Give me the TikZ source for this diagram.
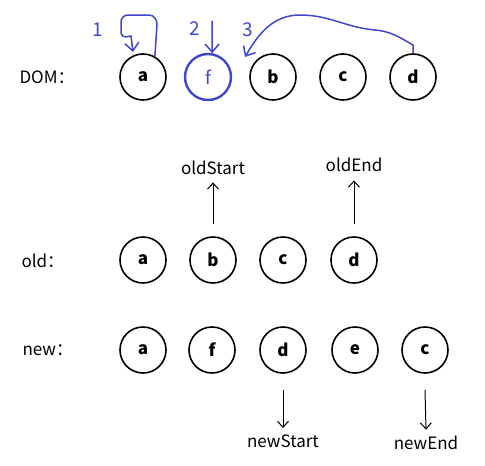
\documentclass[tikz,border=0pt]{standalone}
\usepackage{fontspec}
\setmainfont{Noto Sans CJK SC}
\usepackage{tikz}
\usetikzlibrary{arrows.meta,positioning,calc}
\definecolor{pen}{HTML}{3F48CC}

\begin{document}
\begin{tikzpicture}[x=1pt,y=-1pt,
  elem/.style={circle,draw,line width=1.6pt,minimum size=46pt,inner sep=0pt,
    font=\fontsize{17}{19}\selectfont\bfseries},
  rowlbl/.style={anchor=west,font=\fontsize{17}{19}\selectfont},
  ptr/.style={font=\fontsize{17}{19}\selectfont},
  ptrarrow/.style={-{Straight Barb[length=6pt,width=11pt]},line width=1pt},
  hand/.style={pen,line width=1.5pt,line cap=round,line join=round},
  handtip/.style={hand,-{Straight Barb[length=8pt,width=14pt,line width=1.5pt]}},
  num/.style={pen,font=\fontsize{19}{21}\selectfont}]
\useasboundingbox (0,0) rectangle (485,466);
% row labels
\node[rowlbl] (lbldom) at (16,77) {DOM：};
\node[rowlbl] (lblold) at (18,261) {old：};
\node[rowlbl] (lblnew) at (19,350) {new：};
% DOM
\foreach \nm/\xx in {a/143,b/273,c/343,d/413}{
  \node[elem] (d\nm) at (\xx,77) {\nm};
}
\node[elem,pen,line width=2.4pt,font=\fontsize{18}{20}\selectfont] (df) at (208,77) {f};
% OLD
\foreach \nm/\xx in {a/143,b/213,c/283,d/354}{
  \node[elem] (o\nm) at (\xx,260) {\nm};
}
% NEW
\foreach \nm/\xx in {a/143,f/212,d/283,e/355,c/425}{
  \node[elem] (n\nm) at (\xx,350) {\nm};
}
% pointers
\node[ptr] (ostart) at (213,168) {oldStart};
\node[ptr] (oend) at (354,165) {oldEnd};
\node[ptr] (nstart) at (283,441) {newStart};
\node[ptr] (nend) at (426,443) {newEnd};
\draw[ptrarrow] ([yshift=12pt]ob.north) -- ([yshift=-4pt]ostart.south);
\draw[ptrarrow] ([yshift=12pt]od.north) -- ([yshift=-5pt]oend.south);
\draw[ptrarrow] ([yshift=-16pt]nd.south) -- ([yshift=3pt]nstart.north);
\draw[ptrarrow] ([yshift=-16pt]nc.south) -- ([yshift=3pt]nend.north);
% hand-drawn steps
\node[num] (s1) at (98,30) {1};
\node[num] (s2) at (195,29) {2};
\node[num] (s3) at (248,30) {3};
\coordinate (tip1) at (133,52);
\draw[handtip] (da.60) -- (157,24) to[out=90,in=0] (149,15) -- (128,15)
  to[out=180,in=90] (121,22) -- (121,33) to[out=-90,in=180] (126,37)
  -- (131,36) -- (tip1);
\draw[handtip] (212,21) -- (df.80);
\coordinate (tip3) at (245,57);
\draw[handtip] (dd.north) -- (413,45) to[out=150,in=-5] (375,30)
  to[out=175,in=0] (300,15) to[out=180,in=60] (tip3);
\end{tikzpicture}
\end{document}
